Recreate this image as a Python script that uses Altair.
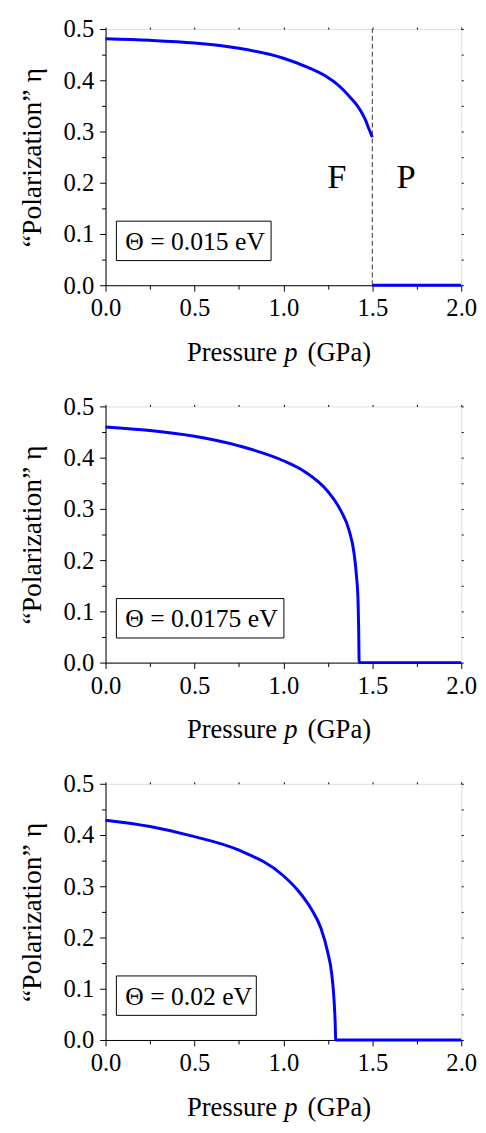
import altair as alt
import pandas as pd

# ---------------- data ----------------
# Panel 1: Theta = 0.015 eV (first-order jump at p = 1.5 GPa)
p1_f = [0.0, 0.25, 0.5, 0.75, 1.0, 1.137, 1.248, 1.30, 1.34, 1.38, 1.414, 1.44, 1.461, 1.48, 1.5]
eta1_f = [0.481, 0.478, 0.4727, 0.4624, 0.443, 0.4253, 0.406, 0.393, 0.380, 0.365, 0.351, 0.337, 0.3226, 0.306, 0.289]
p1_p = [1.5, 2.0]
eta1_p = [0.0, 0.0]

# Panel 2: Theta = 0.0175 eV
p2 = [0.0, 0.25, 0.5, 0.75, 1.0, 1.12, 1.25, 1.322, 1.369, 1.397, 1.411, 1.42, 1.4235, 1.426, 2.0]
eta2 = [0.46, 0.453, 0.4417, 0.423, 0.394, 0.3726, 0.334, 0.297, 0.2586, 0.214, 0.169, 0.118, 0.06, 0.0, 0.0]

# Panel 3: Theta = 0.02 eV
p3 = [0.0, 0.25, 0.5, 0.75, 1.0, 1.082, 1.156, 1.211, 1.248, 1.272, 1.285, 1.2915, 1.294, 2.0]
eta3 = [0.429, 0.4167, 0.397, 0.3705, 0.3205, 0.2917, 0.256, 0.218, 0.173, 0.128, 0.077, 0.03, 0.0, 0.0]

theta_labels = ["\u0398 = 0.015 eV", "\u0398 = 0.0175 eV", "\u0398 = 0.02 eV"]

transition_p = [1.5]
region_labels = ["F", "P"]
region_p = [1.30, 1.69]
region_eta = [0.19, 0.19]

x_ticks = [0.0, 0.25, 0.5, 0.75, 1.0, 1.25, 1.5, 1.75, 2.0]
y_ticks = [0.0, 0.05, 0.1, 0.15, 0.2, 0.25, 0.3, 0.35, 0.4, 0.45, 0.5]

# ---------------- styling ----------------
W, H = 361, 260
FONT = "Times New Roman, Liberation Serif, serif"
BLUE = "#0000ff"
BOX_W = [157, 170, 142]

y_major = "abs(datum.value*10 - round(datum.value*10)) < 0.001"
x_major = "abs(datum.value*2 - round(datum.value*2)) < 0.001"


def x_axis():
    return alt.Axis(values=x_ticks, title=None, grid=False,
                    labelExpr=f"{x_major} ? format(datum.value, '.1f') : ''",
                    tickSize={"condition": {"test": x_major, "value": 6}, "value": 4},
                    labelFont=FONT, labelFontSize=25, labelColor="black",
                    labelPadding=5, labelFlush=False, labelOverlap=False,
                    domainColor="black", tickColor="black", orient="bottom")


def y_axis():
    return alt.Axis(values=y_ticks, title="\u201cPolarization\u201d \u03b7", grid=False,
                    labelExpr=f"{y_major} ? format(datum.value, '.1f') : ''",
                    tickSize={"condition": {"test": y_major, "value": 6}, "value": 4},
                    labelFont=FONT, labelFontSize=25, labelColor="black",
                    labelPadding=6, labelFlush=False, labelOverlap=False,
                    titleFont=FONT, titleFontSize=28, titleFontWeight="normal",
                    titleColor="black", titlePadding=17,
                    domainColor="black", tickColor="black", orient="left")


def mirror_axis(orient, vals):
    return alt.Axis(values=vals, title=None, labels=False, domain=False, grid=False,
                    tickSize=2, tickColor="black", orient=orient)


def panel(df, idx, with_regions=False):
    xs = alt.Scale(domain=[0, 2], nice=False, zero=False)
    ys = alt.Scale(domain=[0, 0.5], nice=False, zero=False)
    line = alt.Chart(df).mark_line(color=BLUE, strokeWidth=3, interpolate="monotone").encode(
        x=alt.X("p:Q", scale=xs, axis=x_axis()),
        y=alt.Y("eta:Q", scale=ys, axis=y_axis()),
        detail="seg:N",
        order="i:Q",
    )
    mirror = alt.Chart(df).mark_point(opacity=0).encode(
        x=alt.X("p:Q", scale=xs, axis=mirror_axis("top", x_ticks)),
        y=alt.Y("eta:Q", scale=ys, axis=mirror_axis("right", y_ticks)),
    )
    label_df = pd.DataFrame({"label": [theta_labels[idx]]})
    box = alt.Chart(label_df).mark_rect(fill="white", stroke="black", strokeWidth=1).encode(
        x=alt.value(11), x2=alt.value(11 + BOX_W[idx]), y=alt.value(195), y2=alt.value(235))
    btxt = alt.Chart(label_df).mark_text(font=FONT, fontSize=26, align="left",
                                         baseline="alphabetic", color="black").encode(
        x=alt.value(20), y=alt.value(224), text="label:N")
    tdf = pd.DataFrame({"a": ["Pressure"], "b": ["p"], "c": ["(GPa)"]})
    ty = H + 77
    t1 = alt.Chart(tdf).mark_text(font=FONT, fontSize=27, align="right", baseline="alphabetic",
                                  color="black").encode(x=alt.value(174), y=alt.value(ty), text="a:N")
    t2 = alt.Chart(tdf).mark_text(font=FONT, fontSize=27, fontStyle="italic", align="center",
                                  baseline="alphabetic", color="black").encode(
        x=alt.value(188), y=alt.value(ty), text="b:N")
    t3 = alt.Chart(tdf).mark_text(font=FONT, fontSize=27, align="left", baseline="alphabetic",
                                  color="black").encode(x=alt.value(205), y=alt.value(ty), text="c:N")
    layers = [line, mirror]
    if with_regions:
        rdf = pd.DataFrame({"p": transition_p, "y0": [0.0], "y1": [0.5]})
        rule = alt.Chart(rdf).mark_rule(color="#333333", strokeWidth=1, strokeDash=[5, 3]).encode(
            x=alt.X("p:Q", scale=xs, axis=None), y=alt.Y("y0:Q", scale=ys, axis=None), y2="y1:Q")
        gdf = pd.DataFrame({"t": region_labels, "p": region_p, "eta": region_eta})
        reg = alt.Chart(gdf).mark_text(font=FONT, fontSize=35, color="black", baseline="alphabetic").encode(
            x=alt.X("p:Q", scale=xs, axis=None), y=alt.Y("eta:Q", scale=ys, axis=None), text="t:N")
        layers = [line, mirror, rule, reg]
    layers += [box, btxt, t1, t2, t3]
    return alt.layer(*layers).resolve_axis(x="independent", y="independent").properties(width=W, height=H)


def mk(ps, es, seg):
    return pd.DataFrame({"p": ps, "eta": es, "seg": [seg] * len(ps), "i": list(range(len(ps)))})


df1 = pd.concat([mk(p1_f, eta1_f, "F"), mk(p1_p, eta1_p, "P")], ignore_index=True)
df2 = mk(p2, eta2, "A")
df3 = mk(p3, eta3, "A")

chart = alt.vconcat(panel(df1, 0, True), panel(df2, 1), panel(df3, 2),
                    spacing=123, bounds="flush").properties(
    padding={"left": 10, "top": 0, "right": 0, "bottom": 0}
).configure_view(stroke="black", strokeWidth=1).configure(background="white")

chart.save("out.html", embed_options={"renderer": "svg", "actions": False})
